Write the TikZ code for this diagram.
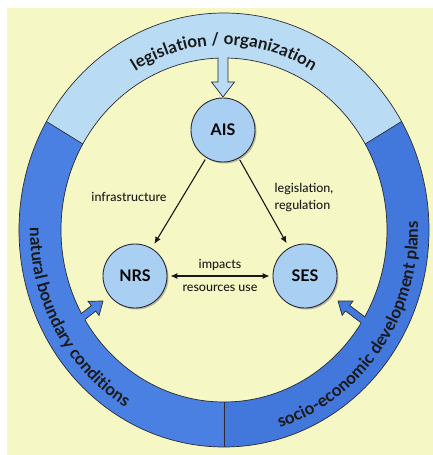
\documentclass[tikz,border=0pt]{standalone}
\usepackage{fontspec}
\setmainfont{Lato}
\newfontfamily\labelfont{Lato Medium}
\usetikzlibrary{arrows.meta,decorations.text,shadows}

\definecolor{paper}{HTML}{F5F7C4}
\definecolor{ringlight}{HTML}{B9DCF4}
\definecolor{ringdark}{HTML}{4A80E2}
\definecolor{ringdarker}{HTML}{4277DC}
\definecolor{sysfill}{HTML}{A9D0F2}
\definecolor{rimcol}{HTML}{2B2B35}

\begin{document}
\begin{tikzpicture}[
    x=1pt, y=1pt,
    system/.style={circle, draw=rimcol, line width=0.9pt, fill=sysfill,
        minimum size=64pt, inner sep=0pt,
        font=\fontsize{16}{16}\selectfont\bfseries,
        drop shadow={shadow xshift=1.5pt, shadow yshift=-1.5pt, opacity=.55}},
    link/.style={line width=1.1pt, draw=black!90},
    tag/.style={font=\labelfont\fontsize{12.5}{17}\selectfont, text=black!90},
    rim/.style={draw=rimcol, line width=0.7pt},
    ringtext/.style={decorate, decoration={text along path, text align=center,
        text={|\fontsize{17}{17}\selectfont\bfseries\color{black!90}|#1}}}
  ]
  % page and background
  \useasboundingbox (-224,-225) rectangle (209,230);
  \fill[white] (-224,-225) rectangle (209,230);
  \fill[paper] (-217,-225) rectangle (209,222);

  % the ring, three segments
  \fill[ringlight] (150:205 and 217) arc[start angle=150, end angle=30, x radius=205, y radius=217]
    -- (30:163 and 172) arc[start angle=30, end angle=150, x radius=163, y radius=172] -- cycle;
  \fill[ringdark] (150:205 and 217) arc[start angle=150, end angle=270, x radius=205, y radius=217]
    -- (270:163 and 172) arc[start angle=270, end angle=150, x radius=163, y radius=172] -- cycle;
  \fill[ringdarker] (270:205 and 217) arc[start angle=270, end angle=390, x radius=205, y radius=217]
    -- (30:163 and 172) arc[start angle=390, end angle=270, x radius=163, y radius=172] -- cycle;
  \draw[rim] (0,0) ellipse[x radius=205, y radius=217];
  \draw[rim] (0,0) ellipse[x radius=163, y radius=172];
  \foreach \a in {30,150,270}
    \draw[rim] (\a:163 and 172) -- (\a:205 and 217);

  % ring labels
  \path[ringtext={legislation / organization}]
    (155:173 and 185) arc[start angle=155, end angle=25, x radius=173, y radius=185];
  \path[ringtext={natural boundary conditions}]
    (155:194 and 206) arc[start angle=155, end angle=265, x radius=194, y radius=206];
  \path[ringtext={socio-economic development plans}]
    (265:194 and 206) arc[start angle=265, end angle=383, x radius=194, y radius=206];

  % block arrows out of the ring
  \fill[ringlight] (-6,177) -- (-6,148) -- (-12.5,148) -- (-1,133) -- (10.5,148) -- (4,148) -- (4,177) -- cycle;
  \draw[rim] (-6,172.5) -- (-6,148) -- (-12.5,148) -- (-1,133) -- (10.5,148) -- (4,148) -- (4,172.5);
  \begin{scope}[shift={(-121,-71)}, rotate=38]
    \fill[ringdark] (-31,-3.5) -- (-12,-3.5) -- (-12,-9) -- (0,0) -- (-12,9) -- (-12,3.5) -- (-31,3.5) -- cycle;
    \draw[rim] (-25.5,-3.5) -- (-12,-3.5) -- (-12,-9) -- (0,0) -- (-12,9) -- (-12,3.5) -- (-25.5,3.5);
  \end{scope}
  \begin{scope}[shift={(114,-71)}, rotate=143]
    \fill[ringdarker] (-37,-3.5) -- (-12,-3.5) -- (-12,-9) -- (0,0) -- (-12,9) -- (-12,3.5) -- (-37,3.5) -- cycle;
    \draw[rim] (-31.5,-3.5) -- (-12,-3.5) -- (-12,-9) -- (0,0) -- (-12,9) -- (-12,3.5) -- (-31.5,3.5);
  \end{scope}

  % subsystems
  \node[system] (ais) at (-1,100) {AIS};
  \node[system] (nrs) at (-89,-46) {NRS};
  \node[system] (ses) at (81,-46) {SES};

  \draw[link, -{Latex[length=7pt,width=6pt]}, shorten <=2pt, shorten >=5pt] (ais) -- (nrs);
  \draw[link, -{Latex[length=7pt,width=6pt]}, shorten <=2pt, shorten >=5pt] (ais) -- (ses);
  \draw[link, {Latex[length=7pt,width=6pt]}-{Latex[length=7pt,width=6pt]},
    shorten <=3pt, shorten >=3pt] (nrs) -- (ses);

  \node[tag] (infra) at (-95,33) {infrastructure};
  \node[tag, align=left] (legis) at (80,32) {legislation,\\regulation};
  \node[tag] (impacts) at (-4,-35) {impacts};
  \node[tag] (resuse) at (-4,-58) {resources use};
\end{tikzpicture}
\end{document}
